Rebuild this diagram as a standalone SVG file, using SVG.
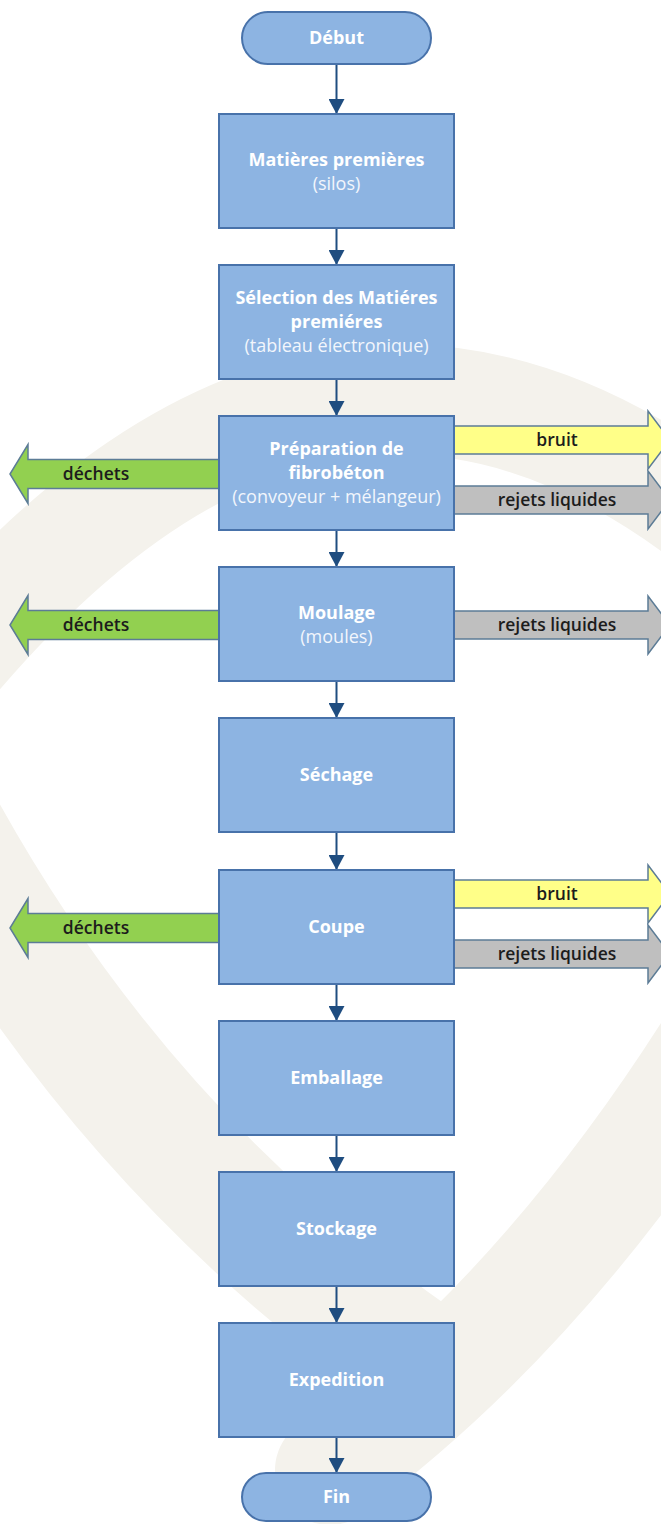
<svg xmlns="http://www.w3.org/2000/svg" width="661" height="1524" viewBox="0 0 661 1524">
  <defs>
    <marker id="ah" markerUnits="userSpaceOnUse" markerWidth="16" markerHeight="16" refX="15" refY="8" orient="auto">
      <path d="M0,0 L15,8 L0,16 Z" fill="#1f4d80"/>
    </marker>
    <style>
      .box{fill:#8db4e2;stroke:#4872aa;stroke-width:2}
      .t{font-family:"Open Sans","Liberation Sans",sans-serif;font-size:18px;fill:#ffffff;text-anchor:middle}
      .b{font-weight:bold}
      .r{font-weight:normal;fill:#f2f6fc}
      .lbl{font-family:"Open Sans","Liberation Sans",sans-serif;font-size:17.5px;font-weight:600;text-anchor:middle;fill:#1c1c1c}
      .green{fill:#92d050;stroke:#5c7c96;stroke-width:1.5}
      .yellow{fill:#ffff88;stroke:#5c7c96;stroke-width:1.5}
      .gray{fill:#bfbfbf;stroke:#5c7c96;stroke-width:1.5}
      .conn{stroke:#1f4d80;stroke-width:2;fill:none}
      .wm{fill:none;stroke:#f4f2ec;stroke-linecap:round;stroke-linejoin:round}
    </style>
  </defs>
  <rect width="661" height="1524" fill="#ffffff"/>
  <g id="watermark">
    <path class="wm" stroke-width="110" d="M-80,700 Q330,180 760,560"/>
    <path class="wm" stroke-width="120" d="M-60,820 Q120,1150 420,1360"/>
    <path class="wm" stroke-width="110" d="M740,1000 Q560,1300 330,1470"/>
  </g>
  <g id="side-arrows">
    <g id="prep-dechets">
      <path class="green" d="M219,459.5 H28 V444.5 L10,474 L28,503.5 V488.5 H219 Z"/>
      <text class="lbl" x="96" y="480" fill="#1a2a10">déchets</text>
    </g>
    <g id="prep-bruit">
      <path class="yellow" d="M454,426 H648 V411 L670,440 L648,469 V454 H454 Z"/>
      <text class="lbl" x="557" y="446">bruit</text>
    </g>
    <g id="prep-rejets">
      <path class="gray" d="M454,486 H648 V471 L670,500 L648,529 V514 H454 Z"/>
      <text class="lbl" x="557" y="506">rejets liquides</text>
    </g>
    <g id="moul-dechets">
      <path class="green" d="M219,610.5 H28 V595.5 L10,625 L28,654.5 V639.5 H219 Z"/>
      <text class="lbl" x="96" y="631">déchets</text>
    </g>
    <g id="moul-rejets">
      <path class="gray" d="M454,611 H648 V596 L670,625 L648,654 V639 H454 Z"/>
      <text class="lbl" x="557" y="631">rejets liquides</text>
    </g>
    <g id="coupe-dechets">
      <path class="green" d="M219,913.5 H28 V898.5 L10,928 L28,957.5 V942.5 H219 Z"/>
      <text class="lbl" x="96" y="934">déchets</text>
    </g>
    <g id="coupe-bruit">
      <path class="yellow" d="M454,880 H648 V865 L670,894 L648,923 V908 H454 Z"/>
      <text class="lbl" x="557" y="900">bruit</text>
    </g>
    <g id="coupe-rejets">
      <path class="gray" d="M454,940 H648 V925 L670,954 L648,983 V968 H454 Z"/>
      <text class="lbl" x="557" y="960">rejets liquides</text>
    </g>
  </g>
  <g id="connectors">
    <line class="conn" x1="336.5" y1="64" x2="336.5" y2="114" marker-end="url(#ah)"/>
    <line class="conn" x1="336.5" y1="228" x2="336.5" y2="265" marker-end="url(#ah)"/>
    <line class="conn" x1="336.5" y1="379" x2="336.5" y2="416" marker-end="url(#ah)"/>
    <line class="conn" x1="336.5" y1="530" x2="336.5" y2="567" marker-end="url(#ah)"/>
    <line class="conn" x1="336.5" y1="681" x2="336.5" y2="718" marker-end="url(#ah)"/>
    <line class="conn" x1="336.5" y1="832" x2="336.5" y2="870" marker-end="url(#ah)"/>
    <line class="conn" x1="336.5" y1="984" x2="336.5" y2="1021" marker-end="url(#ah)"/>
    <line class="conn" x1="336.5" y1="1135" x2="336.5" y2="1172" marker-end="url(#ah)"/>
    <line class="conn" x1="336.5" y1="1286" x2="336.5" y2="1323" marker-end="url(#ah)"/>
    <line class="conn" x1="336.5" y1="1437" x2="336.5" y2="1473" marker-end="url(#ah)"/>
  </g>
  <g id="debut">
    <rect class="box" x="242" y="12" width="189" height="52" rx="26"/>
    <text class="t b" x="336.5" y="44">Début</text>
  </g>
  <g id="matieres">
    <rect class="box" x="219" y="114" width="235" height="114"/>
    <text class="t b" x="336.5" y="165.5">Matières premières</text>
    <text class="t r" x="336.5" y="189.5">(silos)</text>
  </g>
  <g id="selection">
    <rect class="box" x="219" y="265" width="235" height="114"/>
    <text class="t b" x="336.5" y="304">Sélection des Matiéres</text>
    <text class="t b" x="336.5" y="328">premiéres</text>
    <text class="t r" x="336.5" y="352">(tableau électronique)</text>
  </g>
  <g id="preparation">
    <rect class="box" x="219" y="416" width="235" height="114"/>
    <text class="t b" x="336.5" y="455">Préparation de</text>
    <text class="t b" x="336.5" y="479">fibrobéton</text>
    <text class="t r" x="336.5" y="503">(convoyeur + mélangeur)</text>
  </g>
  <g id="moulage">
    <rect class="box" x="219" y="567" width="235" height="114"/>
    <text class="t b" x="336.5" y="618.5">Moulage</text>
    <text class="t r" x="336.5" y="642.5">(moules)</text>
  </g>
  <g id="sechage">
    <rect class="box" x="219" y="718" width="235" height="114"/>
    <text class="t b" x="336.5" y="781">Séchage</text>
  </g>
  <g id="coupe">
    <rect class="box" x="219" y="870" width="235" height="114"/>
    <text class="t b" x="336.5" y="933">Coupe</text>
  </g>
  <g id="emballage">
    <rect class="box" x="219" y="1021" width="235" height="114"/>
    <text class="t b" x="336.5" y="1084">Emballage</text>
  </g>
  <g id="stockage">
    <rect class="box" x="219" y="1172" width="235" height="114"/>
    <text class="t b" x="336.5" y="1235">Stockage</text>
  </g>
  <g id="expedition">
    <rect class="box" x="219" y="1323" width="235" height="114"/>
    <text class="t b" x="336.5" y="1386">Expedition</text>
  </g>
  <g id="fin">
    <rect class="box" x="242" y="1473" width="189" height="48" rx="24"/>
    <text class="t b" x="336.5" y="1503">Fin</text>
  </g>
</svg>
